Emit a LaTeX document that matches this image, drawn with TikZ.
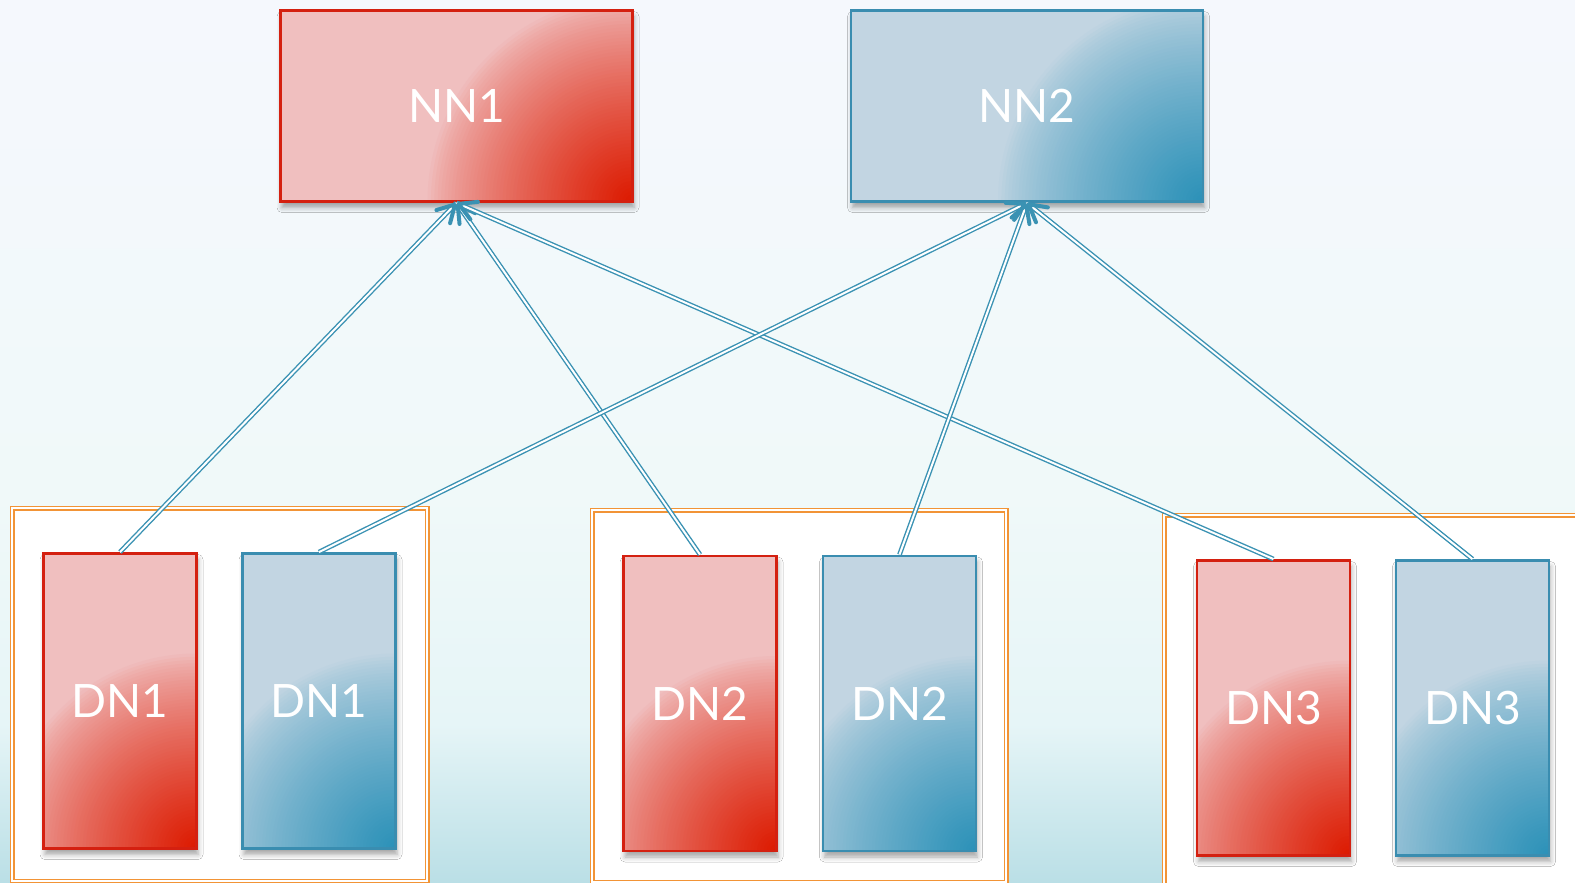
\documentclass[tikz,border=0pt]{standalone}
\usepackage{fontspec}
\usetikzlibrary{arrows.meta,decorations.markings,shadows.blur}
\newfontfamily\lbl{Lato}

% palette
\definecolor{bgtop}{HTML}{F5F8FD}
\definecolor{bgmid}{HTML}{F0F9F9}
\definecolor{bglow}{HTML}{E6F5F7}
\definecolor{bgbot}{HTML}{BADFE6}
\definecolor{redline}{HTML}{D42010}
\definecolor{pinkfill}{HTML}{F0BFBF}
\definecolor{redcore}{HTML}{DC1A00}
\definecolor{blueline}{HTML}{3A8DB0}
\definecolor{bluefill}{HTML}{C2D5E2}
\definecolor{bluecore}{HTML}{2B91B8}
\definecolor{linkc}{HTML}{3A92B3}
\definecolor{grouporange}{HTML}{F29436}

% vertical backdrop; the visible part of the shading is 25bp..75bp
\pgfdeclareverticalshading{bgfade}{100bp}{color(0bp)=(bgbot); color(25bp)=(bgbot); color(34bp)=(bglow); color(47bp)=(bgmid); color(75bp)=(bgtop); color(100bp)=(bgtop)}

\tikzset{
  % corner glow: concentric discs from the lower right corner, growing stronger inwards
  glow/.style n args={3}{path picture={
    \foreach \k [evaluate=\k as \rr using #1*(60-\k)/60,
                 evaluate=\k as \pp using 100*((\k+0.5)/60)^0.75] in {0,...,59}
      {\fill[#2!\pp!#3] (path picture bounding box.south east) circle[radius=\rr pt];}}},
  box/.style={line width=2.8pt, inner sep=0pt, text=white,
    font=\lbl\fontsize{46}{56}\selectfont,
    blur shadow={shadow xshift=1.5pt, shadow yshift=-6pt, shadow blur radius=5pt, shadow opacity=35}},
  redbox/.style={box, draw=redline, fill=pinkfill, glow={#1}{redcore}{pinkfill}},
  bluebox/.style={box, draw=blueline, fill=bluefill, glow={#1}{bluecore}{bluefill}},
  namebox/.style={minimum width=352pt, minimum height=191pt},
  databox/.style={minimum width=153pt, minimum height=295pt},
  group/.style={draw=grouporange, line width=1.4pt, double=white, double distance=2.2pt, fill=white},
  link/.style={draw=linkc, line width=1.4pt, double=white, double distance=2pt,
    postaction={decorate},
    decoration={markings, mark=at position 1 with {\arrow[linkc]{Straight Barb[length=17pt, width=19pt, line width=4pt, round]}}}}
}

\begin{document}
\begin{tikzpicture}[x=1pt, y=-1pt]
  \useasboundingbox (0,0) rectangle (1575,883);
  \shade[shading=bgfade] (0,0) rectangle (1575,883);

  % server groups
  \draw[group] (12,508) rectangle (427,881);
  \draw[group] (592,510) rectangle (1006,882);
  \draw[group] (1164,515) rectangle (1600,900);

  % name nodes
  \node[redbox=205, namebox] (nn1) at (456.5,106) {NN1};
  \node[bluebox=205, namebox] (nn2) at (1027,106) {NN2};

  % data nodes
  \node[redbox=195, databox] (dn1r) at (120,701) {DN1};
  \node[bluebox=195, databox] (dn1b) at (319,701) {DN1};
  \node[redbox=195, databox] (dn2r) at (700,703.5) {DN2};
  \node[bluebox=195, databox] (dn2b) at (899.5,703.5) {DN2};
  \node[redbox=195, databox] (dn3r) at (1273.5,708) {DN3};
  \node[bluebox=195, databox] (dn3b) at (1472.5,708) {DN3};

  % registrations
  \draw[link] (dn1r.north) -- (nn1.south);
  \draw[link] (dn2r.north) -- (nn1.south);
  \draw[link] (dn3r.north) -- (nn1.south);
  \draw[link] (dn1b.north) -- (nn2.south);
  \draw[link] (dn2b.north) -- (nn2.south);
  \draw[link] (dn3b.north) -- (nn2.south);
\end{tikzpicture}
\end{document}
